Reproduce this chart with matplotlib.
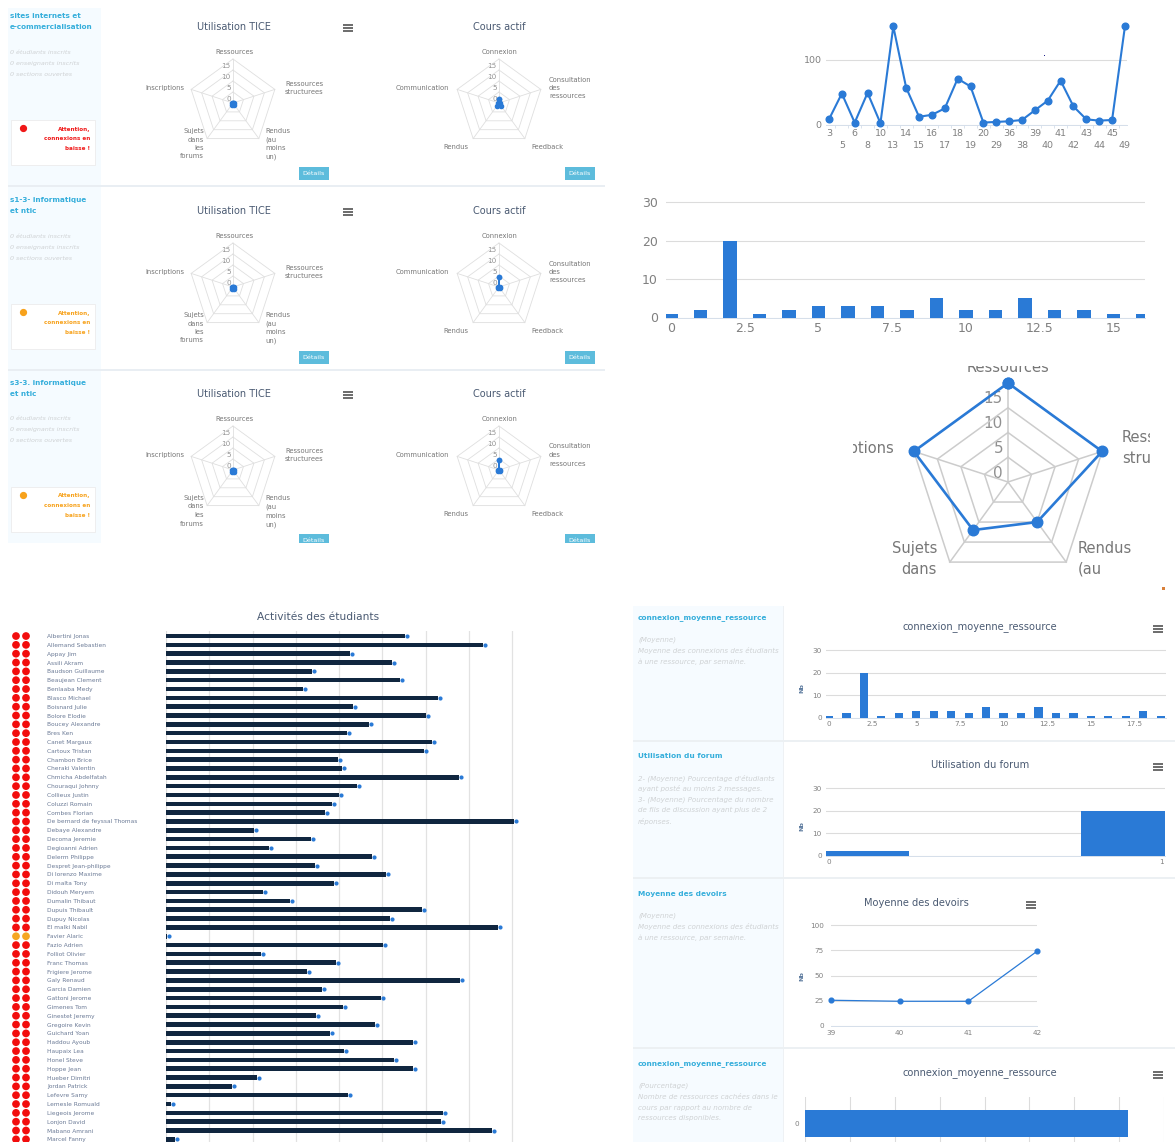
import numpy as np
import matplotlib
matplotlib.use("Agg")
import matplotlib.pyplot as plt
from matplotlib.patches import Rectangle
from matplotlib.ticker import MultipleLocator
from matplotlib.transforms import Bbox, TransformedBbox, ScaledTranslation

W, H = 1175, 1142
BLUE = "#2a7ad6"
NAVY = "#10263f"
GRID = "#dcdcdc"
TICK = "#808080"
TITLE = "#4a5a72"
CYAN = "#35aedb"
SOFT = "#cfd2d4"

# ---------------- data ----------------
line_weeks = ["3", "5", "6", "8", "10", "13", "14", "15", "16", "17", "18", "19",
              "20", "29", "36", "38", "39", "40", "41", "42", "43", "44", "45", "49"]
line_values = [8, 48, 3, 49, 2, 152, 57, 12, 15, 25, 71, 59,
               3, 4, 5, 7, 22, 37, 68, 28, 8, 6, 7, 152]

conn_values = [1, 2, 20, 1, 2, 3, 3, 3, 2, 5, 2, 2, 5, 2, 2, 1, 1, 1, 3, 1]

forum_values = [2, 20]

devoirs_weeks = ["39", "40", "41", "42"]
devoirs_values = [25.5, 24.5, 24.5, 74]

hidden_values = [18]

tice_labels = ["Ressources", "Ressources\nstructurees", "Rendus\n(au\nmoins\nun)",
               "Sujets\ndans\nles\nforums", "Inscriptions"]
actif_labels = ["Connexion", "Consultation\ndes\nressources", "Feedback", "Rendus", "Communication"]
tice_row1 = [0, 0.5, 1, 1, 0.5]
actif_row1 = [2, 0.3, 1.5, 1.5, 0.3]
tice_row2 = [0, 0.5, 1, 1, 0.5]
actif_row2 = [4.5, 0.3, 0.5, 0.5, 0.3]
tice_row3 = [0, 0.5, 1, 1, 0.5]
actif_row3 = [4.5, 0.3, 0.5, 0.5, 0.3]
big_radar_values = [20, 20, 10, 12, 20]

students = ["Albertini Jonas", "Allemand Sebastien", "Appay Jim", "Assili Akram", "Baudson Guillaume",
            "Beaujean Clement", "Benlaaba Medy", "Blasco Michael", "Boisnard Julie", "Bolore Elodie",
            "Boucey Alexandre", "Bres Ken", "Canet Margaux", "Cartoux Tristan", "Chambon Brice",
            "Cheraki Valentin", "Chmicha Abdelfatah", "Chouraqui Johnny", "Collieux Justin", "Coluzzi Romain",
            "Combes Florian", "De bernard de feyssal Thomas", "Debaye Alexandre", "Decoma Jeremie",
            "Degioanni Adrien", "Delerm Philippe", "Despret Jean-philippe", "Di lorenzo Maxime", "Di malta Tony",
            "Didouh Meryem", "Dumalin Thibaut", "Dupuis Thibault", "Dupuy Nicolas", "El malki Nabil",
            "Favier Alaric", "Fazio Adrien", "Folliot Olivier", "Franc Thomas", "Frigiere Jerome", "Galy Renaud",
            "Garcia Damien", "Gattoni Jerome", "Gimenes Tom", "Ginestet Jeremy", "Gregoire Kevin",
            "Guichard Yoan", "Haddou Ayoub", "Haupaix Lea", "Honel Steve", "Hoppe Jean", "Hueber Dimitri",
            "Jordan Patrick", "Lefevre Samy", "Lemesle Romuald", "Liegeois Jerome", "Lonjon David",
            "Mabano Amrani", "Marcel Fanny"]
activity = [239, 317, 184, 226, 146, 234, 137, 272, 187, 260, 203, 181, 266, 258, 172, 176, 293, 191,
            173, 166, 159, 348, 88, 145, 103, 206, 149, 220, 168, 97, 124, 256, 224, 332, 1, 217, 95,
            170, 141, 294, 156, 215, 177, 150, 209, 164, 247, 178, 228, 247, 91, 66, 182, 5, 277, 275,
            326, 9]
status_orange = ["Favier Alaric"]

# ---------------- helpers ----------------
fig = plt.figure(figsize=(W / 100, H / 100), dpi=100, facecolor="white")
plt.rcParams["font.family"] = ["DejaVu Sans"]

base = fig.add_axes([0, 0, 1, 1], zorder=0)
base.set_xlim(0, W)
base.set_ylim(H, 0)
base.axis("off")


def px_axes(x0, y0, x1, y1, **kw):
    a = fig.add_axes([x0 / W, 1 - y1 / H, (x1 - x0) / W, (y1 - y0) / H], zorder=2, **kw)
    a.patch.set_alpha(0)
    return a


def clip_text(t, x0, y0, x1, y1):
    t.set_clip_box(TransformedBbox(Bbox([[x0, y0], [x1, y1]]), base.transData))
    t.set_clip_on(True)


def rect(x0, y0, x1, y1, **kw):
    base.add_patch(Rectangle((x0, y0), x1 - x0, y1 - y0, **kw))


def menu(x, y):
    for dy in (-3, 0, 3):
        rect(x - 5, y + dy - 0.8, x + 5, y + dy + 0.8, fc="#6f6f6f", ec="none")


def button(x0, y0, clip=None):
    y1 = y0 + 13
    if clip:
        y1 = min(y1, clip)
    rect(x0, y0, x0 + 30, y1, fc="#5dbcdc", ec="none")
    t = base.text(x0 + 15, y0 + 6.5, "Détails", color="white", fontsize=4.6, ha="center", va="center")
    if clip:
        clip_text(t, 0, 0, W, clip)


def ystyle(a, fs, pad, xpad=None):
    for s in ("top", "left", "right"):
        a.spines[s].set_visible(False)
    a.spines["bottom"].set_color("#d5deea")
    a.spines["bottom"].set_linewidth(0.7)
    a.yaxis.grid(True, color=GRID, lw=0.8)
    a.set_axisbelow(True)
    a.tick_params(axis="y", length=0, labelsize=fs, labelcolor=TICK, pad=pad)
    a.tick_params(axis="x", length=0, labelsize=fs, labelcolor=TICK, pad=xpad if xpad is not None else pad)


def radar(cx, cy, R, values, small=True):
    a = px_axes(cx - R, cy - R, cx + R, cy + R, projection="polar")
    a.set_theta_zero_location("N")
    a.set_theta_direction(-1)
    a.set_ylim(0, 20)
    a.axis("off")
    th = np.deg2rad([0, 72, 144, 216, 288])
    thc = np.append(th, th[0])
    gc = "#dfdfdf" if small else "#cccccc"
    glw = 0.6 if small else 1.1
    for r in (5, 10, 15, 20):
        a.plot(thc, [r] * 6, color=gc, lw=glw, zorder=1, clip_on=False)
    for t in th:
        a.plot([t, t], [0, 20], color=gc, lw=glw, zorder=1, clip_on=False)
    vals = list(values) + [values[0]]
    a.plot(thc, vals, color=BLUE, lw=0.8 if small else 1.9, marker="o",
           ms=3.0 if small else 7.6, zorder=3, clip_on=False)
    return a


def radar_ticks(cx, cy, R, fs):
    for v in (0, 5, 10, 15):
        base.text(cx - R * 0.05, cy - R * v / 20 - R * 0.09, str(v), fontsize=fs, color="#909090",
                  ha="right", va="center", zorder=5)


def small_radar_pair(cy, tice, actif):
    fs = 4.9
    col = "#777777"
    for cx, vals, labs in ((233, tice, tice_labels), (499, actif, actif_labels)):
        radar(cx, cy, 44, vals)
        radar_ticks(cx, cy, 44, 5.2)
        base.text(cx + 1, cy - 51, labs[0], fontsize=fs, color=col, ha="center", va="center")
    # left radar labels
    base.text(285, cy - 15, tice_labels[1], fontsize=fs, color=col, ha="left", va="center", linespacing=1.45)
    base.text(265, cy + 25, tice_labels[2], fontsize=fs, color=col, ha="left", va="top", linespacing=1.5)
    base.text(204, cy + 25, tice_labels[3], fontsize=fs, color=col, ha="right", va="top", linespacing=1.5,
              multialignment="right")
    base.text(184, cy - 15, tice_labels[4], fontsize=fs, color=col, ha="right", va="center")
    # right radar labels
    base.text(549, cy - 15, actif_labels[1], fontsize=fs, color=col, ha="left", va="center", linespacing=1.5)
    base.text(531, cy + 44, actif_labels[2], fontsize=fs, color=col, ha="left", va="center")
    base.text(468, cy + 44, actif_labels[3], fontsize=fs, color=col, ha="right", va="center")
    base.text(449, cy - 15, actif_labels[4], fontsize=fs, color=col, ha="right", va="center")


# ---------------- top-left dashboard ----------------
rect(8, 8, 101, 543, fc="#f5fbff", ec="none")
for y in (186, 370):
    rect(8, y - 0.6, 605, y + 0.6, fc="#e9eef3", ec="none")

rows = [
    (17, "sites internets et\ne-commercialisation", "#f01818", tice_row1, actif_row1),
    (201, "s1-3- informatique\net ntic", "#f7a21c", tice_row2, actif_row2),
    (384, "s3-3. informatique\net ntic", "#f7a21c", tice_row3, actif_row3),
]
for y, name, col, tice, actif in rows:
    base.text(10, y - 4, name, fontsize=5.2, fontweight="bold", color=CYAN, ha="left", va="top", linespacing=2.0)
    for k, g in enumerate(["0 étudiants inscrits", "0 enseignants inscrits", "0 sections ouvertes"]):
        base.text(10, y + 35 + k * 11, g, fontsize=4.6, style="italic", color=SOFT, ha="left", va="center")
    rect(11, y + 103, 95, y + 148, fc="white", ec="#ececec", lw=0.6)
    base.plot([23], [y + 111], "o", color=col, ms=4.2)
    base.text(90, y + 109.5, "Attention,\nconnexions en\nbaisse !", fontsize=4.1, fontweight="bold", color=col,
              ha="right", va="top", linespacing=2.2, multialignment="right")
    base.text(234, y + 10, "Utilisation TICE", fontsize=7.0, color=TITLE, ha="center", va="center")
    base.text(499, y + 10, "Cours actif", fontsize=7.0, color=TITLE, ha="center", va="center")
    menu(348, y + 11)
    small_radar_pair(y + 86, tice, actif)
    button(299, y + 150, clip=543)
    button(565, y + 150, clip=543)

# ---------------- top-right line chart ----------------
ax = px_axes(826, 20, 1127, 124.5)
ystyle(ax, 6.8, 3, 3.5)
ax.plot(range(len(line_values)), line_values, color=BLUE, lw=1.5, marker="o", ms=4.8, clip_on=False, zorder=3)
ax.set_xlim(-0.23, 23.16)
ax.set_ylim(0, 162)
ax.set_yticks([0, 100])
ax.set_xticks(range(len(line_weeks)))
ax.set_xticklabels([w if i % 2 == 0 else "\n" + w for i, w in enumerate(line_weeks)], linespacing=1.35)
ax.set_xticks(np.arange(0.5, 23.5, 1), minor=True)
ax.tick_params(axis="x", which="minor", length=2, color="#d5deea", width=0.6)
rect(1043.5, 54.5, 1045, 56, fc="#20208a", ec="none")

# ---------------- middle bar chart ----------------
ax = px_axes(666, 191, 1145, 317.5)
ystyle(ax, 9, 6, 3)
ax.bar(range(len(conn_values)), conn_values, width=0.47, color=BLUE, zorder=3)
ax.set_xlim(-0.17, 16.07)
ax.set_ylim(0, 32.9)
ax.set_yticks([0, 10, 20, 30])
ax.set_xticks([0, 2.5, 5, 7.5, 10, 12.5, 15])
ax.set_xticklabels(["0", "2.5", "5", "7.5", "10", "12.5", "15"])

# ---------------- big radar ----------------
radar(1008, 482, 99, big_radar_values, small=False)
radar_ticks(1008, 482, 99, 11)
big = [
    (1008, 372, "Ressources", "center", "baseline", 366),
    (1122, 448, "Ressources\nstructurees", "left", "center", 363),
    (1078, 559, "Rendus\n(au", "left", "center", 363),
    (937, 559, "Sujets\ndans", "right", "center", 363),
    (894, 448, "Inscriptions", "right", "center", 363),
]
for x, y, s, ha, va, top in big:
    t = base.text(x, y, s, fontsize=10.5, color="#777777", ha=ha, va=va, linespacing=1.45, multialignment=ha)
    clip_text(t, 853, top, 1150, 590)
rect(1161.5, 586.5, 1164.5, 590, fc="#d9803a", ec="none")

# ---------------- students chart ----------------
base.text(318, 617, "Activités des étudiants", fontsize=7.7, color=TITLE, ha="center", va="center")
ax = px_axes(166, 631, 520, 1142)
for s in ("top", "bottom", "right"):
    ax.spines[s].set_visible(False)
ax.spines["left"].set_color("#dddddd")
ax.spines["left"].set_linewidth(0.7)
ax.set_xlim(0, 354)
ax.set_ylim(57.3, -0.57)
ax.xaxis.set_major_locator(MultipleLocator(43.25))
ax.xaxis.grid(True, color="#e2e2e2", lw=0.9)
ax.set_axisbelow(True)
ypos = np.arange(len(students))
ax.barh(ypos, activity, height=0.52, color=NAVY, zorder=3)
ax.scatter(activity, ypos, s=9, color=BLUE, zorder=2, clip_on=False, linewidths=0,
           transform=ax.transData + ScaledTranslation(2 / 100, 0, fig.dpi_scale_trans))
ax.set_yticks(ypos)
ax.set_yticklabels(students)
for lab in ax.get_yticklabels():
    lab.set_ha("left")
ax.tick_params(axis="y", length=0, labelsize=4.25, labelcolor="#6b7a96", pad=119 * 0.72)
ax.tick_params(axis="x", length=0, labelbottom=False)
dot_cols = ["#f5a623" if s in status_orange else "#f20d0d" for s in students]
for off in (-150, -140):
    ax.scatter([off] * len(students), ypos, s=31, color=dot_cols, clip_on=False, linewidths=0, zorder=4)

# ---------------- bottom-right dashboard ----------------
rect(633, 606, 783, 1142, fc="#f6fbff", ec="none")
rect(783, 606, 784, 1142, fc="#eef1f4", ec="none")
for y in (741, 878, 1048):
    rect(633, y - 0.7, 1175, y + 0.7, fc="#ecf0f3", ec="none")

side = [
    (618, "connexion_moyenne_ressource",
     ["(Moyenne)", "Moyenne des connexions des étudiants", "à une ressource, par semaine."], 640),
    (756, "Utilisation du forum",
     ["2- (Moyenne) Pourcentage d'étudiants", "ayant posté au moins 2 messages.",
      "3- (Moyenne) Pourcentage du nombre", "de fils de discussion ayant plus de 2", "réponses."], 778),
    (894, "Moyenne des devoirs",
     ["(Moyenne)", "Moyenne des connexions des étudiants", "à une ressource, par semaine."], 916),
    (1064, "connexion_moyenne_ressource",
     ["(Pourcentage)", "Nombre de ressources cachées dans le", "cours par rapport au nombre de",
      "ressources disponibles."], 1086),
]
for y, title, lines, y0 in side:
    base.text(638, y, title, fontsize=5.3, fontweight="bold", color=CYAN, ha="left", va="center")
    for k, s in enumerate(lines):
        base.text(638, y0 + k * 10.8, s, fontsize=5.1, style="italic", color=SOFT, ha="left", va="center")

for x, y, s, mx in ((980, 627, "connexion_moyenne_ressource", 1158), (980, 765, "Utilisation du forum", 1158),
                    (916, 903, "Moyenne des devoirs", 1031), (980, 1073, "connexion_moyenne_ressource", 1158)):
    base.text(x, y, s, fontsize=7.1, color=TITLE, ha="center", va="center")
    menu(mx, y + 2)
for y in (688, 826, 976):
    base.text(802, y, "Nb", fontsize=4.6, fontweight="bold", color="#5c7a9e", rotation=90, ha="center", va="center")

# connexion chart
ax = px_axes(826, 640, 1166, 718)
ystyle(ax, 5.2, 3, 2)
ax.bar(range(len(conn_values)), conn_values, width=0.47, color=BLUE, zorder=3)
ax.set_xlim(-0.17, 19.3)
ax.set_ylim(0, 34.6)
ax.set_yticks([0, 10, 20, 30])
ax.set_xticks([0, 2.5, 5, 7.5, 10, 12.5, 15, 17.5])
ax.set_xticklabels(["0", "2.5", "5", "7.5", "10", "12.5", "15", "17.5"])

# forum chart
ax = px_axes(826, 780, 1165, 856)
ystyle(ax, 5.2, 3, 2)
ax.bar([0, 1], forum_values, width=0.482, color=BLUE, zorder=3)
ax.set_xlim(-0.009, 1.012)
ax.set_ylim(0, 33.6)
ax.set_yticks([0, 10, 20, 30])
ax.set_xticks([0, 1])
ax.set_xticklabels(["0", "1"])

# devoirs chart
ax = px_axes(831, 920, 1037, 1026)
ystyle(ax, 5.2, 5, 3)
ax.plot(range(len(devoirs_values)), devoirs_values, color=BLUE, lw=0.9, marker="o", ms=3.4, clip_on=False, zorder=3)
ax.set_xlim(0, 3)
ax.set_ylim(0, 105)
ax.set_yticks([0, 25, 50, 75, 100])
ax.set_xticks(range(4))
ax.set_xticklabels(devoirs_weeks)

# hidden resources chart
ax = px_axes(805, 1097, 1164, 1142)
for s in ax.spines.values():
    s.set_visible(False)
ax.barh([0], hidden_values, height=0.6, color=BLUE, zorder=3)
ax.set_xlim(0, 20)
ax.set_ylim(-0.411, 0.589)
ax.xaxis.set_major_locator(MultipleLocator(2.5))
ax.xaxis.grid(True, color="#dcdcdc", lw=0.8)
ax.set_axisbelow(True)
ax.set_yticks([0])
ax.tick_params(axis="y", length=0, labelsize=5.2, labelcolor=TICK, pad=4)
ax.tick_params(axis="x", length=0, labelbottom=False)

fig.savefig("out.png", dpi=100, facecolor="white")
